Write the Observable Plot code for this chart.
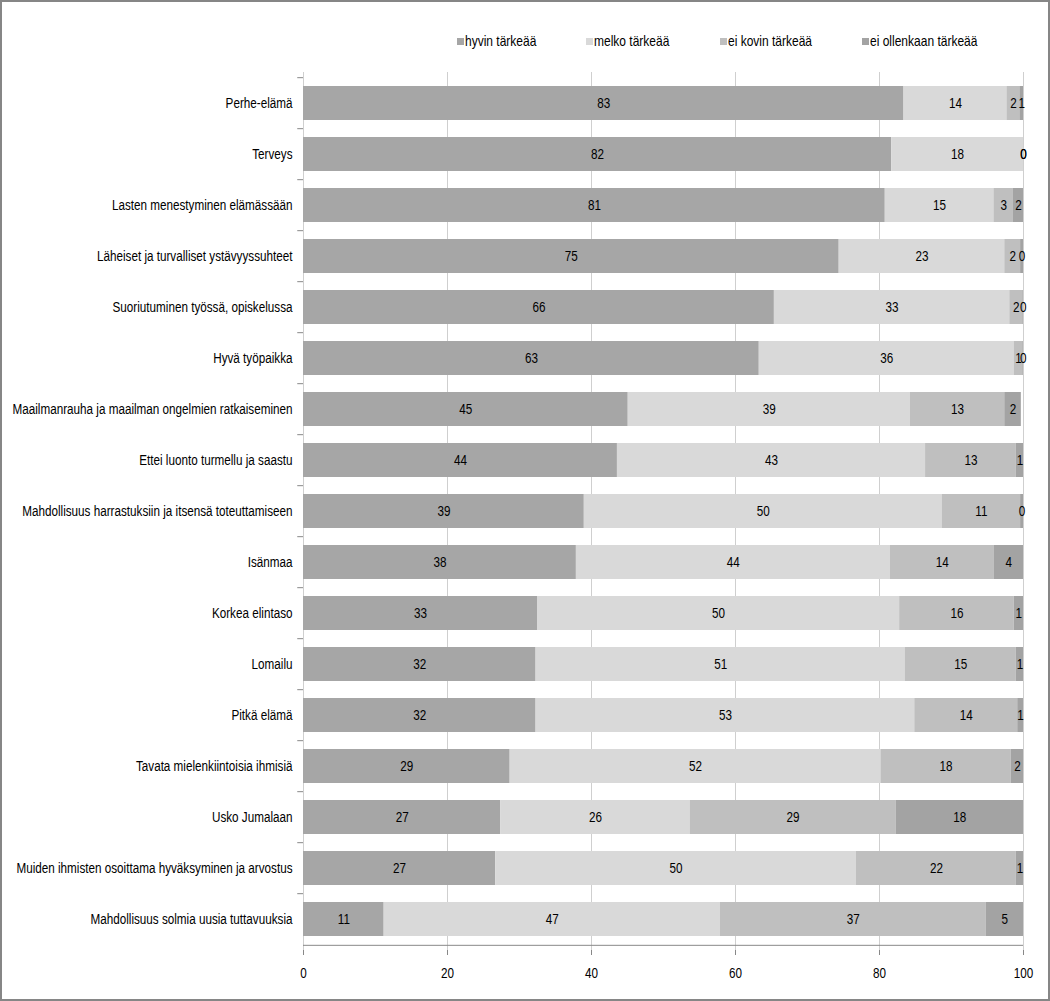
<!DOCTYPE html>
<html><head><meta charset="utf-8">
<script src="https://cdn.jsdelivr.net/npm/d3@7"></script>
<script src="https://cdn.jsdelivr.net/npm/@observablehq/plot@0.6"></script>
<style>
body{margin:0;background:#fff;}
#wrap{position:relative;width:1050px;height:1001px;overflow:hidden;font-family:"Liberation Sans",Arial,sans-serif;}
#frame{position:absolute;left:0;top:0;width:1050px;height:1001px;box-sizing:border-box;border:2px solid #868686;pointer-events:none;}
.li{position:absolute;top:32px;height:18px;line-height:18px;font-size:15px;color:#000;white-space:nowrap;display:flex;align-items:center;}
.sw{display:inline-block;width:7px;height:7px;margin-right:1px;}
.lt{display:inline-block;transform:scaleX(0.8);transform-origin:left center;}
</style></head>
<body>
<div id="wrap"><div id="chart"></div><div id="legend"></div><div id="frame"></div></div>
<script>
const categories = ["Perhe-elämä","Terveys","Lasten menestyminen elämässään","Läheiset ja turvalliset ystävyyssuhteet","Suoriutuminen työssä, opiskelussa","Hyvä työpaikka","Maailmanrauha ja maailman ongelmien ratkaiseminen","Ettei luonto turmellu ja saastu","Mahdollisuus harrastuksiin ja itsensä toteuttamiseen","Isänmaa","Korkea elintaso","Lomailu","Pitkä elämä","Tavata mielenkiintoisia ihmisiä","Usko Jumalaan","Muiden ihmisten osoittama hyväksyminen ja arvostus","Mahdollisuus solmia uusia tuttavuuksia"];
const series = ["hyvin tärkeää","melko tärkeää","ei kovin tärkeää","ei ollenkaan tärkeää"];
const hyvin = [83.4,81.7,80.8,74.4,65.4,63.3,45.1,43.6,39.0,37.9,32.5,32.3,32.3,28.7,27.4,26.7,11.2];
const melko = [14.3,18.3,15.1,23.0,32.7,35.4,39.2,42.8,49.7,43.6,50.3,51.3,52.6,51.5,26.3,50.1,46.7];
const eiKovin = [1.8,0,2.7,2.2,1.8,1.2,13.1,12.6,10.9,14.4,15.9,15.4,14.3,18.1,28.6,22.2,36.9];
const eiOllenkaan = [0.5,0,1.4,0.4,0.1,0.1,2.3,1.0,0.4,4.1,1.3,1.0,0.8,1.7,17.7,1.0,5.2];
const hyvinLabels = [83,82,81,75,66,63,45,44,39,38,33,32,32,29,27,27,11];
const melkoLabels = [14,18,15,23,33,36,39,43,50,44,50,51,53,52,26,50,47];
const eiKovinLabels = [2,0,3,2,2,1,13,13,11,14,16,15,14,18,29,22,37];
const eiOllenkaanLabels = [1,0,2,0,0,0,2,1,0,4,1,1,1,2,18,1,5];
const xTicks = [0,20,40,60,80,100];
const colors = ["#a6a6a6","#d9d9d9","#bfbfbf","#a3a3a3"];

const valueSets = [hyvin, melko, eiKovin, eiOllenkaan];
const labelSets = [hyvinLabels, melkoLabels, eiKovinLabels, eiOllenkaanLabels];
const table = [];
categories.forEach((c, i) => {
  series.forEach((s, j) => {
    table.push({cat: c, series: s, value: valueSets[j][i], label: labelSets[j][i]});
  });
});

const W = 1050, H = 1001, mT = 72, mB = 51, mL = 303, mR = 27;
const step = (H - mT - mB) / categories.length;
const font = '"Liberation Sans",Arial,sans-serif';
const narrow = 0.78;

const chart = Plot.plot({
  width: W, height: H,
  marginTop: mT, marginBottom: mB, marginLeft: mL, marginRight: mR,
  style: {fontFamily: font, fontSize: "15px", color: "#000", background: "#fff"},
  x: {domain: [0, 100]},
  y: {domain: categories, paddingInner: 0.34, paddingOuter: 0.17},
  color: {domain: series, range: colors},
  marks: [
    Plot.gridX(xTicks, {stroke: "#cfcfcf", strokeOpacity: 1}),
    Plot.barX(table, {x: "value", y: "cat", fill: "series"}),
    Plot.text(table, Plot.stackX({x: "value", y: "cat", text: "label", fill: "#000", fontSize: 15})),
    Plot.ruleY(categories, {y: d => d, x1: -0.8, x2: 0, dy: -step / 2, stroke: "#888"}),
    Plot.ruleY([categories[categories.length - 1]], {y: d => d, x1: 0, x2: 100, dy: step / 2, stroke: "#888"}),
    Plot.axisY({tickSize: 0, tickPadding: 11, fill: "#000", fontSize: 15, label: null}),
    Plot.axisX({ticks: xTicks, tickSize: 5, tickPadding: 12, stroke: "#888", fill: "#000", fontSize: 15, label: null})
  ]
});

// condense all texts horizontally (narrow typeface look)
chart.querySelectorAll("text").forEach(t => {
  const xa = t.getAttribute("x");
  const x = xa && !/em$/.test(xa) ? parseFloat(xa) : 0;
  if (xa && !/em$/.test(xa)) t.setAttribute("x", 0);
  const tr = t.getAttribute("transform") || "";
  t.setAttribute("transform", `${tr} translate(${x},0) scale(${narrow},1)`.trim());
});
document.getElementById("chart").appendChild(chart);

const color = chart.scale("color");
const legendX = [457, 586, 720, 862];
const leg = document.getElementById("legend");
series.forEach((s, j) => {
  const d = document.createElement("div");
  d.className = "li";
  d.style.left = legendX[j] + "px";
  const sw = document.createElement("span");
  sw.className = "sw";
  sw.style.background = color.apply(s);
  d.appendChild(sw);
  const tx = document.createElement("span");
  tx.className = "lt";
  tx.textContent = s;
  d.appendChild(tx);
  leg.appendChild(d);
});
</script>
</body></html>
